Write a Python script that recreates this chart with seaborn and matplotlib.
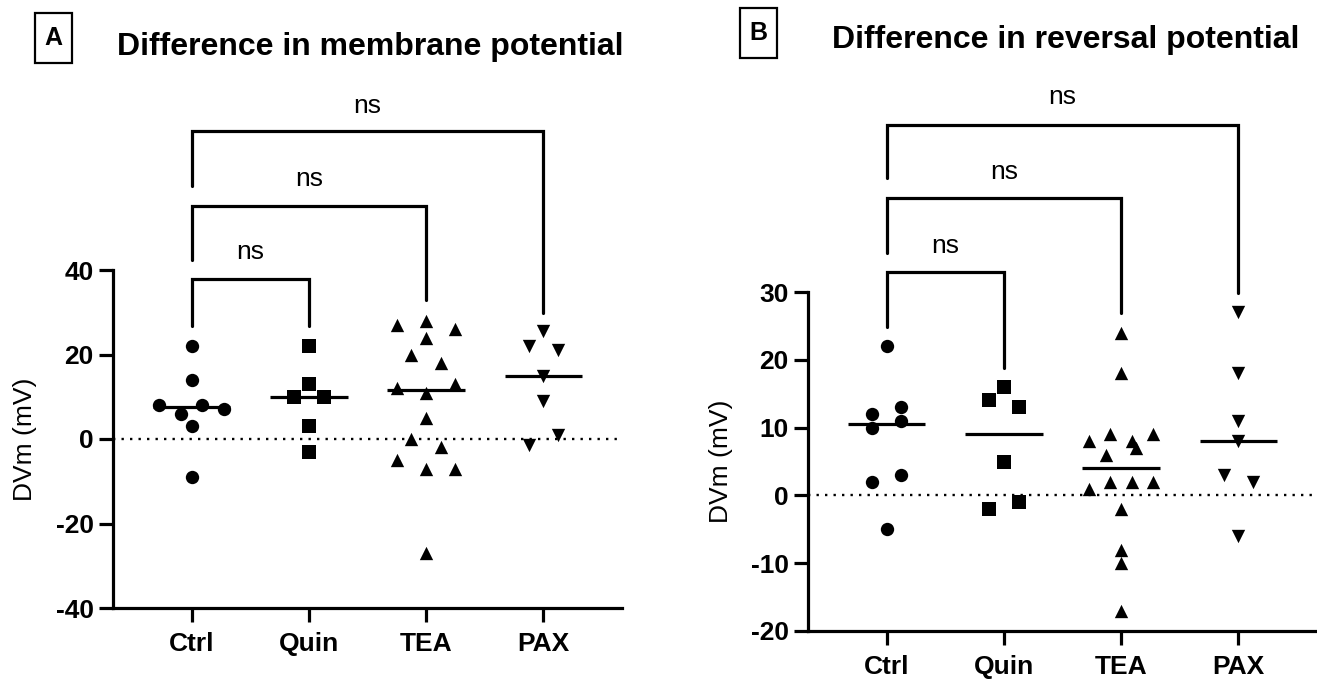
import numpy as np
import pandas as pd
import matplotlib
matplotlib.use("Agg")
import matplotlib.pyplot as plt
from matplotlib.patches import Rectangle
import seaborn as sns

# ---- data ---------------------------------------------------------------
groups = ["Ctrl", "Quin", "TEA", "PAX"]
markers = ["o", "s", "^", "v"]

# membrane potential difference (mV)
vm_ctrl = [22, 14, 8, 6, 8, 7, 3, -9]
vm_quin = [22, 13, 10, 10, 3, -3]
vm_tea = [27, 28, 26, 24, 20, 18, 12, 11, 13, 5, 0, -2, -5, -7, -7, -27]
vm_pax = [25.5, 22, 21, 15, 9, -1.5, 1]

# reversal potential difference (mV)
rev_ctrl = [22, 12, 13, 10, 11, 2, 3, -5]
rev_quin = [16, 14, 13, 5, -2, -1]
rev_tea = [24, 18, 8, 9, 8, 9, 6, 7, 1, 2, 2, 2, -2, -8, -10, -17]
rev_pax = [27, 18, 11, 8, 3, 2, -6]

titles = ["Difference in membrane potential", "Difference in reversal potential"]
panel_letters = ["A", "B"]
ylabel = "DVm (mV)"
yticks_a = [-40, -20, 0, 20, 40]
yticks_b = [-20, -10, 0, 10, 20, 30]
sig_text = "ns"

# ---- style --------------------------------------------------------------
sns.set_theme(style="white")
plt.rcParams["font.family"] = ["Liberation Sans", "DejaVu Sans"]
for key in ["text.color", "axes.labelcolor", "xtick.color", "ytick.color",
            "axes.edgecolor"]:
    plt.rcParams[key] = "black"
LW = 2.3
MS = 9.6

W, H = 1317, 679
fig = plt.figure(figsize=(W / 100, H / 100), dpi=100)


def px_axes(left, top, right, bottom):
    return fig.add_axes([left / W, 1 - bottom / H, (right - left) / W, (bottom - top) / H])


axA = px_axes(113, 270, 622, 608)
axB = px_axes(808, 292, 1317, 631)


def spread(vals, row_height):
    """Scatter-dot layout: values closer than row_height share a row and are
    spread symmetrically about the group centre (in observation order)."""
    vals = np.asarray(vals, dtype=float)
    order = np.argsort(-vals, kind="stable")
    rows, cur, start = [], [], None
    for idx in order:
        if start is None or start - vals[idx] <= row_height:
            if start is None:
                start = vals[idx]
            cur.append(idx)
        else:
            rows.append(cur)
            cur, start = [idx], vals[idx]
    rows.append(cur)
    offs = np.zeros(len(vals))
    for r in rows:
        r = sorted(r)
        n = len(r)
        if n > 1:
            step = min(0.25, 0.55 / (n - 1))
            offs[r] = (np.arange(n) - (n - 1) / 2) * step
    return offs


def draw_panel(ax, series, ylim, yticks, row_height, brackets):
    for i, (g, vals, m) in enumerate(zip(groups, series, markers)):
        d = pd.DataFrame({"pos": i + spread(vals, row_height), "value": vals})
        sns.scatterplot(data=d, x="pos", y="value", marker=m, color="black",
                        s=MS ** 2, linewidth=0, ax=ax, zorder=4, legend=False)
        ax.hlines(np.median(vals), i - 0.33, i + 0.33, color="black", lw=LW, zorder=5)

    ax.axhline(0, color="black", lw=1.7, ls=(0, (1, 2.6)), zorder=1)
    ax.set_xlim(-0.67, 3.67)
    ax.set_xticks(range(len(groups)))
    ax.set_xticklabels(groups)
    ax.set_ylim(*ylim)
    ax.set_yticks(yticks)
    ax.set_yticklabels([str(t) for t in yticks])
    ax.set_xlabel("")
    ax.set_ylabel(ylabel, fontsize=19)
    for s in ["top", "right"]:
        ax.spines[s].set_visible(False)
    for s in ["left", "bottom"]:
        ax.spines[s].set_linewidth(LW)
        ax.spines[s].set_color("black")
    ax.tick_params(axis="y", length=10, width=LW, pad=4, labelsize=19,
                   left=True, color="black", labelcolor="black")
    ax.tick_params(axis="x", length=10, width=LW, pad=7, labelsize=19,
                   bottom=True, color="black", labelcolor="black")
    for lab in ax.get_xticklabels() + ax.get_yticklabels():
        lab.set_fontweight("bold")

    # comparison brackets against control
    for (x1, x2, ytop, yl, yr, ytxt) in brackets:
        ax.plot([x1, x1, x2, x2], [yl, ytop, ytop, yr], color="black", lw=LW,
                clip_on=False, solid_joinstyle="miter", zorder=5)
        ax.text((x1 + x2) / 2, ytxt, sig_text, ha="center", va="center",
                fontsize=19, clip_on=False)


draw_panel(axA, [vm_ctrl, vm_quin, vm_tea, vm_pax], (-40, 40), yticks_a, 2.9,
           [(0, 1, 37.9, 26.8, 26.8, 44.3),
            (0, 2, 55.2, 42.4, 32.8, 61.5),
            (0, 3, 72.8, 59.8, 29.8, 78.8)])
axA.yaxis.set_label_coords(-0.150, 0.5)

draw_panel(axB, [rev_ctrl, rev_quin, rev_tea, rev_pax], (-20, 30), yticks_b, 1.9,
           [(0, 1, 32.9, 24.9, 18.8, 36.8),
            (0, 2, 43.9, 35.8, 26.9, 47.7),
            (0, 3, 54.7, 46.8, 29.9, 58.7)])
axB.yaxis.set_label_coords(-0.148, 0.5)

# panel letters in boxes and titles
for (bx0, by0, bx1, by1), letter, (tx, ty), title in zip(
        [(35, 13, 72, 63), (740, 8, 777, 58)], panel_letters,
        [(117, 55), (832, 48)], titles):
    fig.patches.append(Rectangle((bx0 / W, 1 - by1 / H), (bx1 - bx0) / W,
                                 (by1 - by0) / H, transform=fig.transFigure,
                                 fill=False, edgecolor="black", lw=1.6))
    fig.text((bx0 + bx1) / 2 / W, 1 - (by0 + by1) / 2 / H, letter,
             ha="center", va="center", fontsize=18, fontweight="bold")
    fig.text(tx / W, 1 - ty / H, title, ha="left", va="baseline",
             fontsize=23, fontweight="bold")

fig.savefig("out.png", dpi=100, facecolor="white")
